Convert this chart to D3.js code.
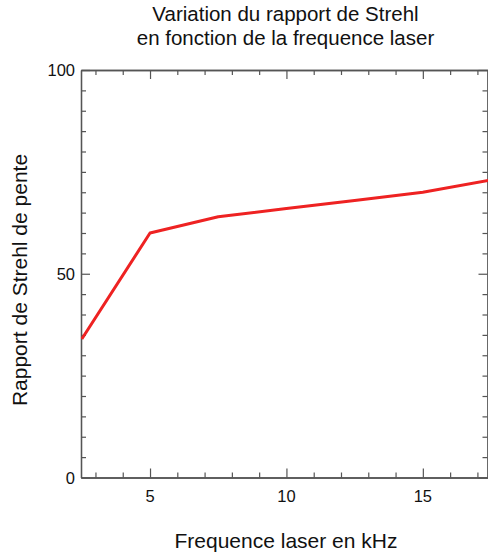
<!DOCTYPE html>
<html><head><meta charset="utf-8">
<script src="https://cdn.jsdelivr.net/npm/d3@7"></script>
<style>body{margin:0;background:#fff}svg{display:block}text{font-family:"Liberation Sans",Arial,sans-serif;fill:#111}</style>
</head><body>
<script>
const freq = [2.5, 5, 7.5, 10, 12.5, 15, 17.5];
const strehl = [34, 60, 64, 66, 68, 70, 73];
const xDomain = [2.47, 17.37];
const yDomain = [0, 100];
const xMajor = [5, 10, 15];
const xMinor = [3,4,6,7,8,9,11,12,13,14,16,17];
const yMajor = [0, 50, 100];
const yMinor = [5,10,15,20,25,30,35,40,45,55,60,65,70,75,80,85,90,95];
const titleLines = ["Variation du rapport de Strehl", "en fonction de la frequence laser"];
const xLabel = "Frequence laser en kHz";
const yLabel = "Rapport de Strehl de pente";

const W = 488, H = 554;
const L = 81, R = 487.5, T = 70, B = 477.5;
const svg = d3.select("body").append("svg").attr("width", W).attr("height", H);
const x = d3.scaleLinear().domain(xDomain).range([L, R]);
const y = d3.scaleLinear().domain(yDomain).range([B, T]);
const axisColor = "#555";

function styleAxis(g){
  g.select(".domain").attr("stroke", axisColor).attr("stroke-width", 1.3);
  g.selectAll(".tick line").attr("stroke", axisColor).attr("stroke-width", 1.2);
}
// bottom
svg.append("g").attr("transform",`translate(0,${B})`)
  .call(d3.axisTop(x).tickValues(xMinor).tickSize(5).tickFormat("").tickSizeOuter(0)).call(styleAxis);
svg.append("g").attr("transform",`translate(0,${B})`)
  .call(d3.axisTop(x).tickValues(xMajor).tickSize(9).tickFormat("").tickSizeOuter(0)).call(styleAxis);
svg.append("g").selectAll("text").data(xMajor).join("text")
  .attr("x", d=>x(d)).attr("y", B+24).attr("text-anchor","middle").attr("font-size",16.5).text(d=>d);
// top
svg.append("g").attr("transform",`translate(0,${T})`)
  .call(d3.axisBottom(x).tickValues(xMinor).tickSize(5).tickFormat("").tickSizeOuter(0)).call(styleAxis);
svg.append("g").attr("transform",`translate(0,${T})`)
  .call(d3.axisBottom(x).tickValues(xMajor).tickSize(9).tickFormat("").tickSizeOuter(0)).call(styleAxis);
// left
svg.append("g").attr("transform",`translate(${L},0)`)
  .call(d3.axisRight(y).tickValues(yMinor).tickSize(5).tickFormat("").tickSizeOuter(0)).call(styleAxis);
svg.append("g").attr("transform",`translate(${L},0)`)
  .call(d3.axisRight(y).tickValues(yMajor).tickSize(9).tickFormat("").tickSizeOuter(0)).call(styleAxis);
svg.append("g").selectAll("text").data(yMajor).join("text")
  .attr("x", L-6).attr("y", d=>y(d)+6).attr("text-anchor","end").attr("font-size",16.5).text(d=>d);
// right
svg.append("g").attr("transform",`translate(${R},0)`)
  .call(d3.axisLeft(y).tickValues(yMinor).tickSize(5).tickFormat("").tickSizeOuter(0)).call(styleAxis);
svg.append("g").attr("transform",`translate(${R},0)`)
  .call(d3.axisLeft(y).tickValues(yMajor).tickSize(9).tickFormat("").tickSizeOuter(0)).call(styleAxis);

// clip + line
svg.append("clipPath").attr("id","clip").append("rect").attr("x",L).attr("y",T).attr("width",W-L).attr("height",B-T);
const pts = freq.map((f,i)=>[f, strehl[i]]);
svg.append("path").datum(pts).attr("clip-path","url(#clip)")
  .attr("fill","none").attr("stroke","#ee2222").attr("stroke-width",3).attr("stroke-linejoin","round")
  .attr("d", d3.line().x(d=>x(d[0])).y(d=>y(d[1])));

// titles
svg.append("g").selectAll("text").data(titleLines).join("text")
  .attr("x", 285.5).attr("y",(d,i)=>21+i*24).attr("text-anchor","middle").attr("font-size",20.5).text(d=>d);
svg.append("text").attr("x",286).attr("y",548).attr("text-anchor","middle").attr("font-size",21).text(xLabel);
svg.append("text").attr("transform",`translate(27,280) rotate(-90)`).attr("text-anchor","middle").attr("font-size",21).text(yLabel);
</script>
</body></html>
